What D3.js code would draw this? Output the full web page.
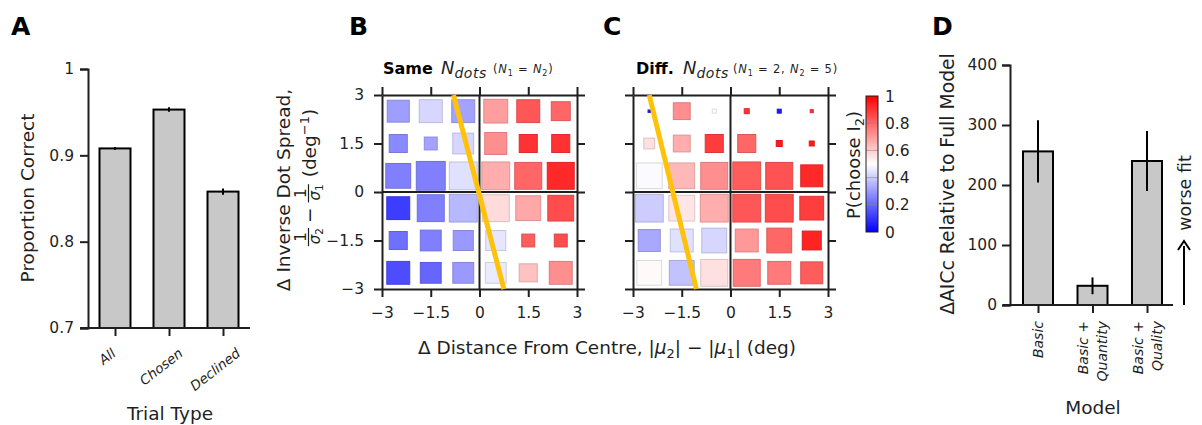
<!DOCTYPE html>
<html><head><meta charset="utf-8">
<script src="https://cdn.jsdelivr.net/npm/d3@7"></script>
<style>
body{margin:0;background:#fff}
svg text{font-family:"DejaVu Sans",sans-serif;fill:#1f1f1f;white-space:pre}
</style>
</head><body>
<svg id="c" width="1202" height="425" xmlns="http://www.w3.org/2000/svg"></svg>
<script>
// ---------------- DATA ----------------
const trialTypes = ["All", "Chosen", "Declined"];
const propCorrect = [0.908, 0.953, 0.858];
const propErr = [0.001, 0.002, 0.003];
const aTicks = [0.7, 0.8, 0.9, 1];

const distCentres = [-2.5, -1.5, -0.5, 0.5, 1.5, 2.5];   // x bin centres
const spreadCentres = [2.5, 1.5, 0.5, -0.5, -1.5, -2.5]; // y bin centres (rows, top to bottom)
const gridTicks = [-3, -1.5, 0, 1.5, 3];

// P(choose I2) per bin, Same N_dots
const sameP = [
  [0.31, 0.42, 0.32, 0.69, 0.83, 0.80],
  [0.27, 0.32, 0.42, 0.72, 0.90, 0.90],
  [0.25, 0.25, 0.44, 0.66, 0.80, 0.92],
  [0.12, 0.25, 0.36, 0.57, 0.67, 0.85],
  [0.22, 0.25, 0.30, 0.45, 0.82, 0.85],
  [0.15, 0.20, 0.30, 0.46, 0.62, 0.72]
];
// relative number of trials per bin, Same N_dots
const sameN = [
  [58, 63, 63, 68, 63, 43],
  [39, 20, 52, 58, 39, 39],
  [74, 100, 93, 93, 87, 87],
  [63, 87, 93, 87, 74, 80],
  [39, 52, 48, 48, 20, 20],
  [63, 52, 52, 52, 39, 63]
];
// P(choose I2) per bin, Diff. N_dots
const diffP = [
  [0.05, 0.72, 0.50, 0.90, 0.05, 0.90],
  [0.56, 0.66, 0.88, 0.80, 0.95, 0.95],
  [0.49, 0.64, 0.72, 0.82, 0.84, 0.92],
  [0.40, 0.55, 0.66, 0.83, 0.85, 0.88],
  [0.33, 0.44, 0.42, 0.70, 0.80, 0.93],
  [0.51, 0.38, 0.56, 0.76, 0.76, 0.82]
];
const diffN = [
  [0.7, 34, 1.9, 3, 1.9, 1.1],
  [14, 34, 39, 39, 4.3, 3],
  [80, 80, 87, 93, 87, 58],
  [93, 80, 93, 93, 93, 68],
  [58, 63, 74, 63, 74, 43],
  [74, 74, 87, 87, 63, 58]
];
// decision boundary endpoints [x, y]
const sameBoundary = [[-0.8, 3], [0.75, -3]];
const diffBoundary = [[-2.5, 3], [-1.05, -3]];
const cbarTicks = [0, 0.2, 0.4, 0.6, 0.8, 1];

const models = ["Basic", "Basic + Quantity", "Basic + Quality"];
const modelLines = [["Basic"], ["Basic +", "Quantity"], ["Basic +", "Quality"]];
const aicc = [256, 32, 240];
const aiccErr = [52, 14, 50];
const dTicks = [0, 100, 200, 300, 400];

// ---------------- DRAWING ----------------
const svg = d3.select("#c");
const INK = "#1f1f1f";
const BAR = "#c8c8c8";
const fmtSigned = d => d === 0 ? "0" : (d < 0 ? "\u2212" : "") + Math.abs(d);

function styleAxis(g, fs) {
  g.selectAll("path.domain").attr("stroke", INK).attr("stroke-width", 2);
  g.selectAll(".tick line").attr("stroke", INK).attr("stroke-width", 2);
  g.selectAll(".tick text").attr("font-size", fs).attr("fill", INK)
    .style("font-family", '"DejaVu Sans",sans-serif');
}
function letter(t, x) {
  svg.append("text").attr("x", x).attr("y", 35).attr("font-size", 25)
    .attr("font-weight", "bold").style("fill", "#000").text(t);
}
function rotLabel(txt, cx, cy, fs) {
  svg.append("text").attr("transform", `translate(${cx},${cy}) rotate(-90)`)
    .attr("text-anchor", "middle").attr("font-size", fs).text(txt);
}

// ---------- Panel A ----------
letter("A", 11);
const aY = d3.scaleLinear().domain([0.7, 1]).range([328, 69]);
const aX = d3.scalePoint().domain(trialTypes).range([115, 223]);
const gA = svg.append("g");
gA.selectAll("rect").data(trialTypes).join("rect")
  .attr("x", d => aX(d) - 15.5).attr("width", 31)
  .attr("y", (d, i) => aY(propCorrect[i]))
  .attr("height", (d, i) => aY(0.7) - aY(propCorrect[i]))
  .attr("fill", BAR).attr("stroke", "#000").attr("stroke-width", 2);
gA.selectAll("line.err").data(trialTypes).join("line").attr("class", "err")
  .attr("x1", d => aX(d)).attr("x2", d => aX(d))
  .attr("y1", (d, i) => aY(propCorrect[i] - propErr[i]) + 0.5)
  .attr("y2", (d, i) => aY(propCorrect[i] + propErr[i]) - 0.5)
  .attr("stroke", "#000").attr("stroke-width", 2);
const aYAxis = svg.append("g").attr("transform", "translate(88,0)")
  .call(d3.axisLeft(aY).tickValues(aTicks).tickSize(8).tickPadding(6)
    .tickFormat(d => d === 1 ? "1" : d3.format(".1f")(d)));
styleAxis(aYAxis, 15.5);
const aXAxis = svg.append("g").attr("transform", "translate(0,328)")
  .call(d3.axisBottom(aX).tickSize(8).tickFormat(""));
aXAxis.select("path.domain").remove();
styleAxis(aXAxis, 15);
svg.append("line").attr("x1", 80).attr("x2", 250).attr("y1", 328).attr("y2", 328)
  .attr("stroke", INK).attr("stroke-width", 2);
trialTypes.forEach(t => {
  const el = svg.append("text").attr("font-size", 13.5).attr("font-style", "italic")
    .attr("text-anchor", "middle").attr("dominant-baseline", "central").text(t);
  const w = el.node().getComputedTextLength();
  const h = w * Math.sin(38 * Math.PI / 180) + 13 * Math.cos(38 * Math.PI / 180);
  el.attr("transform", `translate(${aX(t) - 8},${346 + h / 2}) rotate(-38)`);
});
rotLabel("Proportion Correct", 34, 198, 18.5);
svg.append("text").attr("x", 170).attr("y", 420).attr("text-anchor", "middle")
  .attr("font-size", 18.5).text("Trial Type");

// ---------- Panels B & C ----------
const pColor = d3.scaleLinear().domain([0, 0.5, 1]).range(["#0000ff", "#ffffff", "#ff0000"]);
const sizeScale = d3.scaleSqrt().domain([0, 100]).range([0, 0.89]);

function heatPanel(x0, P, N, boundary, showY) {
  const x = d3.scaleLinear().domain([-3, 3]).range([x0, x0 + 195]);
  const y = d3.scaleLinear().domain([-3, 3]).range([289, 95]);
  const g = svg.append("g");
  const cells = [];
  spreadCentres.forEach((cy, r) => distCentres.forEach((cx, c) =>
    cells.push({ cx, cy, p: P[r][c], n: N[r][c] })));
  g.selectAll("rect").data(cells).join("rect")
    .attr("x", d => x(d.cx - sizeScale(d.n) / 2))
    .attr("y", d => y(d.cy + sizeScale(d.n) / 2))
    .attr("width", d => x(sizeScale(d.n)) - x(0))
    .attr("height", d => y(0) - y(sizeScale(d.n)))
    .attr("fill", d => pColor(d.p))
    .attr("stroke", d => d3.color(pColor(d.p)).darker(0.4))
    .attr("stroke-width", 1);
  // axes on four sides
  const ax = [
    g.append("g").attr("transform", `translate(0,${y(-3)})`)
      .call(d3.axisBottom(x).tickValues(gridTicks).tickSizeInner(8).tickSizeOuter(0).tickPadding(10).tickFormat(fmtSigned)),
    g.append("g").attr("transform", `translate(0,${y(3)})`)
      .call(d3.axisTop(x).tickValues(gridTicks).tickSizeInner(8).tickSizeOuter(0).tickFormat("")),
    g.append("g").attr("transform", `translate(${x(-3)},0)`)
      .call(d3.axisLeft(y).tickValues(gridTicks).tickSizeInner(8).tickSizeOuter(0).tickPadding(10)
        .tickFormat(showY ? fmtSigned : "")),
    g.append("g").attr("transform", `translate(${x(3)},0)`)
      .call(d3.axisRight(y).tickValues(gridTicks).tickSizeInner(8).tickSizeOuter(0).tickFormat(""))
  ];
  ax.forEach(a => styleAxis(a, 15.5));
  g.append("line").attr("x1", x(0)).attr("x2", x(0)).attr("y1", y(3)).attr("y2", y(-3))
    .attr("stroke", INK).attr("stroke-width", 2);
  g.append("line").attr("x1", x(-3)).attr("x2", x(3)).attr("y1", y(0)).attr("y2", y(0))
    .attr("stroke", INK).attr("stroke-width", 2);
  g.append("path").datum(boundary)
    .attr("d", d3.line().x(d => x(d[0])).y(d => y(d[1])))
    .attr("stroke", "#ffc20a").attr("stroke-width", 5).attr("fill", "none");
  return x;
}
letter("B", 349);
letter("C", 603);
heatPanel(382, sameP, sameN, sameBoundary, true);
heatPanel(633, diffP, diffN, diffBoundary, false);

function title(x0, boldTxt, nX, parenX, parts) {
  svg.append("text").attr("x", x0).attr("y", 74).attr("font-weight", "bold")
    .attr("font-size", 16).style("fill", "#000").text(boldTxt);
  const n = svg.append("text").attr("x", nX).attr("y", 74);
  n.append("tspan").attr("font-style", "italic").attr("font-size", 18).text("N");
  n.append("tspan").attr("dy", 4).attr("font-style", "italic").attr("font-size", 14)
    .attr("letter-spacing", 0.5).text("dots");
  const t = svg.append("text").attr("x", parenX).attr("y", 73).attr("letter-spacing", 0.8);
  parts.forEach(p => {
    const s = t.append("tspan").attr("font-size", p.sub ? 8 : 11.5);
    if (p.it) s.attr("font-style", "italic");
    if (p.sub) s.attr("dy", 2.5);
    if (p.after) s.attr("dy", -2.5);
    s.text(p.t);
  });
}
title(383, "Same", 441, 493, [
  { t: "(" }, { t: "N", it: 1 }, { t: "1", sub: 1 }, { t: " = ", after: 1 },
  { t: "N", it: 1 }, { t: "2", sub: 1 }, { t: ")", after: 1 }
]);
title(636, "Diff.", 683, 733, [
  { t: "(" }, { t: "N", it: 1 }, { t: "1", sub: 1 }, { t: " = 2, ", after: 1 },
  { t: "N", it: 1 }, { t: "2", sub: 1 }, { t: " = 5)", after: 1 }
]);

// x label shared
const xl = svg.append("text").attr("x", 607).attr("y", 354).attr("text-anchor", "middle").attr("font-size", 18.5);
xl.append("tspan").text("\u0394 Distance From Centre, |");
xl.append("tspan").attr("font-style", "italic").text("\u03bc");
xl.append("tspan").attr("font-size", 13).attr("dy", 4).text("2");
xl.append("tspan").attr("dy", -4).text("| \u2212 |");
xl.append("tspan").attr("font-style", "italic").text("\u03bc");
xl.append("tspan").attr("font-size", 13).attr("dy", 4).text("1");
xl.append("tspan").attr("dy", -4).text("| (deg)");

// y label B (two lines, second with fractions), rotated
rotLabel("\u0394 Inverse Dot Spread,", 290, 190, 18.5);
(function () {
  const g = svg.append("g").attr("transform", "rotate(-90)");
  // local coords: lx = -screenY, ly = screenX
  const barY = 308.5, base = 316;
  const pieces = [];
  function frac(sub) {
    const gg = g.append("g");
    const num = gg.append("text").attr("font-size", 15).attr("text-anchor", "middle").attr("y", barY - 2.5).text("1");
    const den = gg.append("text").attr("font-size", 15).attr("text-anchor", "middle").attr("y", barY + 11.5);
    den.append("tspan").attr("font-style", "italic").text("\u03c3");
    den.append("tspan").attr("font-size", 10.5).attr("dy", 2.5).text(sub);
    const w = Math.max(den.node().getComputedTextLength(), 8) + 4;
    const line = gg.append("line").attr("y1", barY).attr("y2", barY).attr("stroke", INK).attr("stroke-width", 1.2);
    pieces.push({ w, place: x => { num.attr("x", x + w / 2); den.attr("x", x + w / 2 + 1); line.attr("x1", x + 1).attr("x2", x + w - 1); } });
  }
  function txt(s, fs, gap) {
    const t = g.append("text").attr("font-size", fs).attr("y", base);
    if (typeof s === "string") t.text(s); else s(t);
    const w = t.node().getComputedTextLength();
    pieces.push({ w: w + gap, place: x => t.attr("x", x + gap / 2) });
  }
  frac("2");
  txt("\u2212", 18.5, 8);
  frac("1");
  txt(t => { t.append("tspan").text(" (deg"); t.append("tspan").attr("font-size", 13).attr("dy", -7).text("\u22121");
             t.append("tspan").attr("dy", 7).text(")"); }, 18.5, 0);
  const total = d3.sum(pieces, p => p.w);
  let cur = -178 - total / 2;
  pieces.forEach(p => { p.place(cur); cur += p.w; });
})();

// colorbar
const cbY = d3.scaleLinear().domain([0, 1]).range([232, 96]);
const grad = svg.append("defs").append("linearGradient").attr("id", "bwr")
  .attr("x1", 0).attr("x2", 0).attr("y1", 1).attr("y2", 0);
d3.range(0, 1.0001, 0.05).forEach(v => grad.append("stop").attr("offset", v).attr("stop-color", pColor(v)));
svg.append("rect").attr("x", 866).attr("width", 12).attr("y", cbY(1)).attr("height", cbY(0) - cbY(1))
  .attr("fill", "url(#bwr)");
svg.selectAll("line.cbt").data(cbarTicks.slice(1, -1)).join("line").attr("class", "cbt")
  .attr("x1", 866).attr("x2", 878).attr("y1", d => cbY(d)).attr("y2", d => cbY(d))
  .attr("stroke", "#888").attr("stroke-opacity", 0.6).attr("stroke-width", 1);
svg.append("rect").attr("x", 866).attr("width", 12).attr("y", cbY(1)).attr("height", cbY(0) - cbY(1))
  .attr("fill", "none").attr("stroke", INK).attr("stroke-width", 1);
svg.selectAll("text.cbl").data(cbarTicks).join("text").attr("class", "cbl")
  .attr("x", 885).attr("y", d => cbY(d)).attr("dy", "0.36em").attr("font-size", 15.5)
  .text(d => d === 0 ? "0" : d === 1 ? "1" : d3.format(".1f")(d));
(function () {
  const t = svg.append("text").attr("transform", "translate(860,165) rotate(-90)")
    .attr("text-anchor", "middle").attr("font-size", 18);
  t.append("tspan").text("P(choose I");
  t.append("tspan").attr("font-size", 13).attr("dy", 4).text("2");
  t.append("tspan").attr("dy", -4).text(")");
})();

// ---------- Panel D ----------
letter("D", 932);
const dY = d3.scaleLinear().domain([0, 400]).range([305, 65]);
const dX = d3.scalePoint().domain(models).range([1038, 1147]);
const gD = svg.append("g");
gD.selectAll("rect").data(models).join("rect")
  .attr("x", d => dX(d) - 15).attr("width", 30)
  .attr("y", (d, i) => dY(aicc[i])).attr("height", (d, i) => dY(0) - dY(aicc[i]))
  .attr("fill", BAR).attr("stroke", "#000").attr("stroke-width", 2);
gD.selectAll("line.err").data(models).join("line").attr("class", "err")
  .attr("x1", d => dX(d)).attr("x2", d => dX(d))
  .attr("y1", (d, i) => dY(aicc[i] - aiccErr[i])).attr("y2", (d, i) => dY(aicc[i] + aiccErr[i]))
  .attr("stroke", "#000").attr("stroke-width", 2);
const dYAxis = svg.append("g").attr("transform", "translate(1010,0)")
  .call(d3.axisLeft(dY).tickValues(dTicks).tickSize(8).tickPadding(5));
styleAxis(dYAxis, 15.5);
const dXAxis = svg.append("g").attr("transform", "translate(0,305)")
  .call(d3.axisBottom(dX).tickSize(8).tickFormat(""));
dXAxis.select("path.domain").remove();
styleAxis(dXAxis, 15);
svg.append("line").attr("x1", 1003).attr("x2", 1173).attr("y1", 305).attr("y2", 305)
  .attr("stroke", INK).attr("stroke-width", 2);
models.forEach((m, i) => {
  const lines = modelLines[i];
  lines.forEach((ln, j) => {
    const off = (j - (lines.length - 1) / 2) * 19;
    svg.append("text").attr("transform", `translate(${dX(m) + off},321) rotate(-90)`)
      .attr("text-anchor", "end").attr("dominant-baseline", "central")
      .attr("font-size", 14).attr("font-style", "italic").text(ln);
  });
});
rotLabel("\u0394AICc Relative to Full Model", 954, 184, 18.8);
svg.append("text").attr("x", 1093).attr("y", 414).attr("text-anchor", "middle").attr("font-size", 18.5).text("Model");
rotLabel("worse fit", 1191, 193, 17.5);
svg.append("line").attr("x1", 1184).attr("x2", 1184).attr("y1", dY(0)).attr("y2", 246)
  .attr("stroke", "#000").attr("stroke-width", 2);
svg.append("path").attr("d", "M1178,250 L1184,241 L1190,250").attr("fill", "none")
  .attr("stroke", "#000").attr("stroke-width", 2);
</script>
</body></html>
